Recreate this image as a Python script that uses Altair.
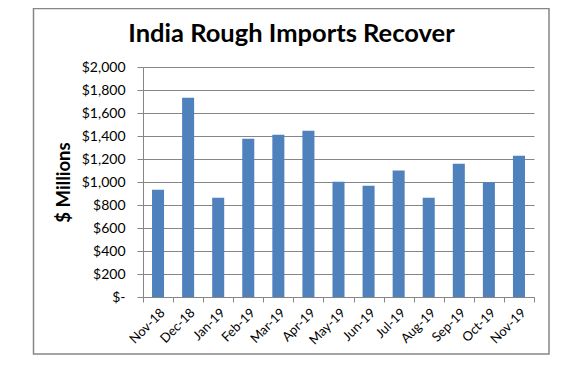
import altair as alt
import pandas as pd

months = ["Nov-18", "Dec-18", "Jan-19", "Feb-19", "Mar-19", "Apr-19", "May-19",
          "Jun-19", "Jul-19", "Aug-19", "Sep-19", "Oct-19", "Nov-19"]
imports = [933, 1733, 863, 1377, 1411, 1446, 1003, 968, 1101, 863, 1159, 997, 1229]
y_ticks = [0, 200, 400, 600, 800, 1000, 1200, 1400, 1600, 1800, 2000]

df = pd.DataFrame({"month": months, "value": imports})

FONT = "Lato"
GRAY = "#868686"
BLUE = "#4F81BD"

frame = alt.Chart(alt.Data(values=[{"k": 0}])).mark_rect(
    filled=False, stroke=GRAY, strokeWidth=1.5
).encode(
    x=alt.value(-109.5), x2=alt.value(406), y=alt.value(-58.5), y2=alt.value(287)
)

bars = alt.Chart(df).mark_bar(color=BLUE, width=alt.RelativeBandSize(0.4)).encode(
    x=alt.X("month:N", sort=months, title=None,
            scale=alt.Scale(paddingInner=0, paddingOuter=0),
            axis=alt.Axis(labelAngle=-45, tickBand="extent", tickSize=5,
                          labelPadding=4, grid=False, domainColor=GRAY,
                          tickColor=GRAY, labelFont=FONT, labelFontSize=13,
                          labelColor="black")),
    y=alt.Y("value:Q", scale=alt.Scale(domain=[0, 2000], nice=False),
            title="$ Millions",
            axis=alt.Axis(values=y_ticks, grid=True, gridColor=GRAY,
                          domainColor=GRAY, tickColor=GRAY, tickSize=6,
                          labelPadding=12, labelFont=FONT, labelFontSize=14,
                          labelColor="black",
                          labelExpr="datum.value == 0 ? '$-\u00a0\u00a0\u00a0' : format(datum.value, '$,')",
                          titleFont=FONT, titleFontSize=18.5, titleFontWeight="bold",
                          titleColor="black", titleAngle=-90, titleAlign="center",
                          titleBaseline="alphabetic", titleX=-74, titleY=115))
)

chart = alt.layer(frame, bars).properties(
    width=391, height=230,
    title=alt.TitleParams("India Rough Imports Recover", font=FONT, fontSize=25.5,
                          fontWeight="bold", color="black", anchor="middle",
                          frame="group", dx=-47, offset=-40),
    autosize=alt.AutoSizeParams(type="none"),
    padding={"left": 135, "top": 59, "right": 20, "bottom": 62},
    background="white",
).configure_view(strokeWidth=0)

chart.save("out.html", embed_options={"renderer": "svg", "actions": False})
